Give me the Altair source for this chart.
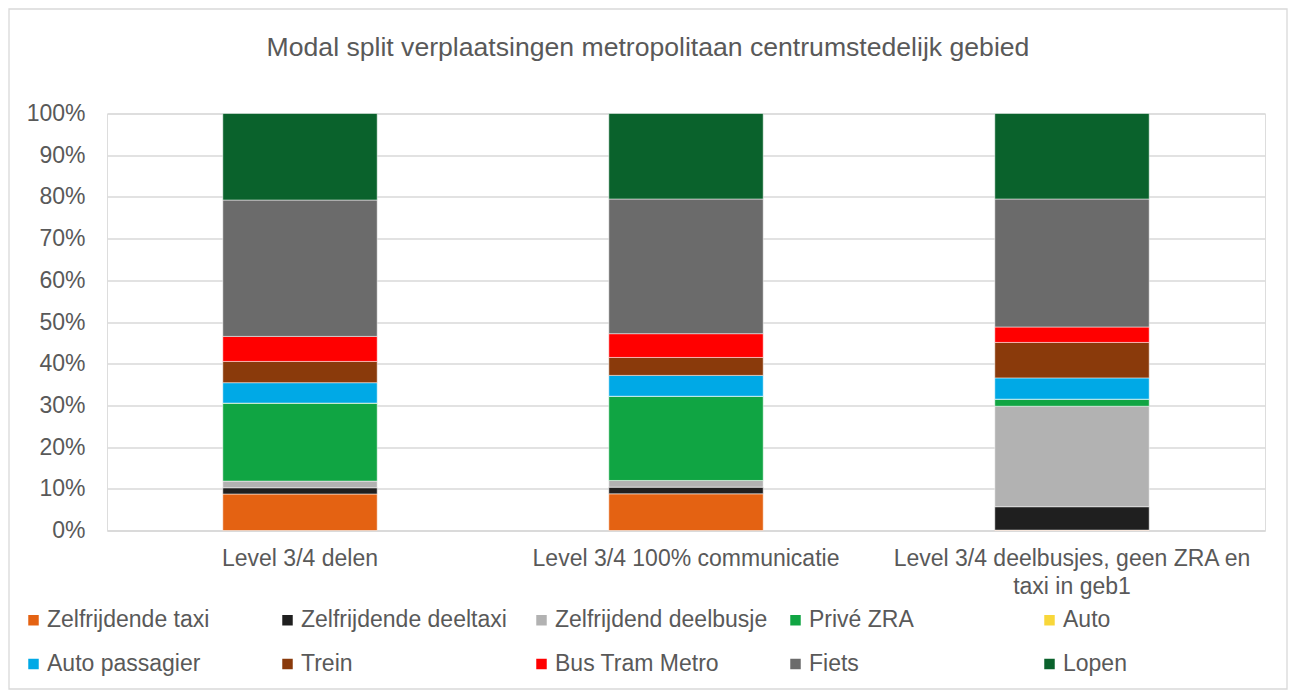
import altair as alt
import pandas as pd

categories = [
    "Level 3/4 delen",
    "Level 3/4 100% communicatie",
    "Level 3/4 deelbusjes, geen ZRA en taxi in geb1",
]
modes = [
    "Zelfrijdende taxi",
    "Zelfrijdende deeltaxi",
    "Zelfrijdend deelbusje",
    "Privé ZRA",
    "Auto",
    "Auto passagier",
    "Trein",
    "Bus Tram Metro",
    "Fiets",
    "Lopen",
]
colors = [
    "#E46212",
    "#1F1F1F",
    "#B2B2B2",
    "#10A543",
    "#F8D73A",
    "#00A9E6",
    "#8A3A0B",
    "#FF0000",
    "#6B6B6B",
    "#0A622C",
]
# percentage per mode, one list per category
delen = [8.75, 1.5, 1.6, 18.7, 0.0, 4.9, 5.1, 6.0, 32.7, 20.75]
communicatie = [8.8, 1.6, 1.6, 20.2, 0.0, 5.0, 4.3, 5.7, 32.3, 20.5]
deelbusjes = [0.1, 5.6, 24.1, 1.7, 0.0, 5.1, 8.5, 3.7, 30.7, 20.5]
y_ticks = [0, 10, 20, 30, 40, 50, 60, 70, 80, 90, 100]

rows = []
for cat, vals in zip(categories, [delen, communicatie, deelbusjes]):
    for i, (m, v) in enumerate(zip(modes, vals)):
        rows.append({"Scenario": cat, "Modus": m, "Aandeel": v, "Volgorde": i})
df = pd.DataFrame(rows)

TXT = "#595959"
GRID = "#D9D9D9"
FONT = "Liberation Sans"
W, H = 1158, 417
PAD = {"left": 99, "top": 105.5, "right": 23, "bottom": 159.5}

bars = alt.Chart(df).mark_bar(stroke="#FFFFFF", strokeWidth=0.5).encode(
    x=alt.X(
        "Scenario:N",
        sort=categories,
        scale=alt.Scale(paddingInner=0.6, paddingOuter=0.3),
        axis=alt.Axis(
            title=None,
            labelAngle=0,
            labelFontSize=23,
            labelColor=TXT,
            labelFont=FONT,
            labelPadding=17,
            labelLineHeight=28,
            labelLimit=500,
            ticks=False,
            domainColor=GRID,
            domainWidth=1.3,
            labelExpr="datum.value == 'Level 3/4 deelbusjes, geen ZRA en taxi in geb1' ? ['Level 3/4 deelbusjes, geen ZRA en', 'taxi in geb1'] : datum.label",
        ),
    ),
    y=alt.Y(
        "Aandeel:Q",
        stack="zero",
        scale=alt.Scale(domain=[0, 100], nice=False),
        axis=alt.Axis(
            title=None,
            values=y_ticks,
            labelExpr="datum.value + '%'",
            labelFontSize=23,
            labelColor=TXT,
            labelFont=FONT,
            labelPadding=22,
            ticks=False,
            domain=False,
            gridColor=GRID,
            gridWidth=1.3,
        ),
    ),
    color=alt.Color(
        "Modus:N",
        sort=modes,
        scale=alt.Scale(domain=modes, range=colors),
        legend=alt.Legend(
            title=None,
            orient="none",
            legendX=-85,
            legendY=495,
            direction="horizontal",
            columns=5,
            gridAlign="all",
            columnPadding=16,
            rowPadding=20,
            symbolType="square",
            symbolSize=110,
            symbolStrokeWidth=0,
            labelFontSize=23,
            labelColor=TXT,
            labelFont=FONT,
            labelOffset=2,
            labelLimit=400,
        ),
    ),
    order=alt.Order("Volgorde:Q", sort="ascending"),
)

frame = alt.Chart(pd.DataFrame({"f": [0]})).mark_rect(
    fillOpacity=0, stroke=GRID, strokeWidth=1.3
).encode(
    x=alt.value(-PAD["left"] + 1),
    x2=alt.value(W + PAD["right"] - 1),
    y=alt.value(-PAD["top"] + 1),
    y2=alt.value(H + PAD["bottom"] - 1),
)

chart = alt.layer(frame, bars).properties(
    width=W,
    height=H,
    padding=PAD,
    autosize=alt.AutoSizeParams(type="none"),
    title=alt.Title(
        "Modal split verplaatsingen metropolitaan centrumstedelijk gebied",
        fontSize=26.6,
        font=FONT,
        color=TXT,
        fontWeight="normal",
        anchor="middle",
        frame="bounds",
        baseline="alphabetic",
        offset=-74,
    ),
).configure_view(stroke=None).configure(background="white")

chart.save("out.html", embed_options={"renderer": "svg", "actions": False})
